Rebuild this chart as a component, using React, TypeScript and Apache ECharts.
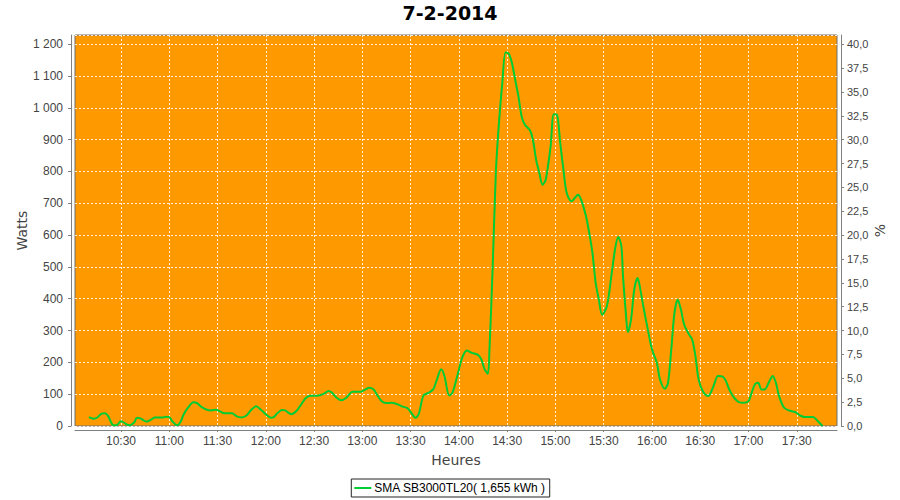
import React, { useEffect, useRef } from "react";
import * as echarts from "echarts";

const TITLE = "7-2-2014";
const SERIES_NAME = "SMA SB3000TL20( 1,655 kWh )";
const X_TICKS = ["10:30", "11:00", "11:30", "12:00", "12:30", "13:00", "13:30", "14:00", "14:30", "15:00", "15:30", "16:00", "16:30", "17:00", "17:30"];

const times = [
  "10:10", "10:13", "10:15", "10:18", "10:20", "10:22", "10:25", "10:27", "10:30", "10:32",
  "10:35", "10:38", "10:40", "10:42", "10:44", "10:46", "10:49", "10:51", "10:54", "10:56",
  "10:58", "11:00", "11:02", "11:05", "11:07", "11:09", "11:12", "11:15", "11:17", "11:20",
  "11:23", "11:26", "11:29", "11:32", "11:34", "11:39", "11:42", "11:45", "11:48", "11:51",
  "11:54", "11:57", "12:00", "12:03", "12:05", "12:07", "12:10", "12:12", "12:14", "12:16",
  "12:19", "12:22", "12:25", "12:28", "12:32", "12:36", "12:39", "12:41", "12:44", "12:47",
  "12:50", "12:54", "12:59", "13:02", "13:04", "13:07", "13:09", "13:12", "13:15", "13:18",
  "13:22", "13:25", "13:28", "13:30", "13:33", "13:35", "13:38", "13:41", "13:44", "13:46",
  "13:49", "13:51", "13:54", "13:56", "13:59", "14:02", "14:05", "14:08", "14:12", "14:14",
  "14:16", "14:18", "14:19", "14:21", "14:23", "14:25", "14:27", "14:29", "14:31", "14:33",
  "14:35", "14:37", "14:39", "14:41", "14:44", "14:46", "14:48", "14:50", "14:52", "14:54",
  "14:57", "14:59", "15:01", "15:03", "15:05", "15:07", "15:10", "15:12", "15:14", "15:16",
  "15:19", "15:21", "15:23", "15:25", "15:27", "15:29", "15:32", "15:35", "15:37", "15:39",
  "15:41", "15:42", "15:44", "15:45", "15:47", "15:49", "15:51", "15:52", "15:55", "15:57",
  "16:00", "16:03", "16:05", "16:08", "16:10", "16:12", "16:14", "16:16", "16:18", "16:20",
  "16:23", "16:25", "16:27", "16:29", "16:32", "16:35", "16:37", "16:39", "16:41", "16:44",
  "16:46", "16:48", "16:51", "16:54", "16:57", "17:00", "17:02", "17:04", "17:06", "17:08",
  "17:10", "17:13", "17:15", "17:17", "17:19", "17:22", "17:25", "17:29", "17:32", "17:35",
  "17:40", "17:43", "17:46",
];

const watts = [
  28, 23, 26, 39, 40, 31, 3, 2, 15, 10,
  2, 10, 26, 24, 18, 14, 21, 27, 27, 27,
  29, 28, 14, 2, 13, 37, 60, 75, 73, 60,
  52, 49, 51, 45, 40, 40, 30, 27, 33, 51,
  62, 51, 37, 26, 28, 39, 50, 49, 42, 37,
  47, 68, 89, 95, 95, 101, 110, 105, 89, 81,
  89, 108, 108, 115, 120, 115, 99, 78, 72, 73,
  68, 61, 56, 44, 26, 37, 96, 104, 115, 141,
  178, 157, 96, 105, 157, 214, 237, 230, 223, 209,
  178, 164, 240, 500, 800, 960, 1080, 1174, 1170, 1140,
  1088, 1036, 973, 947, 931, 900, 837, 795, 758, 775,
  879, 980, 978, 889, 805, 732, 706, 717, 727, 711,
  659, 607, 544, 450, 397, 350, 377, 481, 554, 594,
  565, 470, 340, 295, 335, 429, 465, 450, 366, 314,
  241, 199, 146, 117, 136, 241, 356, 397, 366, 319,
  288, 272, 220, 146, 105, 94, 110, 136, 157, 155,
  141, 115, 89, 75, 73, 78, 105, 131, 136, 115,
  115, 141, 157, 136, 94, 58, 49, 44, 33, 28,
  28, 16, 0,
];

const toMin = (s: string) => {
  const [h, m] = s.split(":").map(Number);
  return h * 60 + m;
};
const fmtTime = (v: number) => {
  const h = Math.floor(v / 60);
  const m = Math.round(v - h * 60);
  return `${h}:${m < 10 ? "0" + m : m}`;
};

export default function App() {
  const ref = useRef<HTMLDivElement>(null);
  useEffect(() => {
    if (!ref.current) return;
    const chart = echarts.init(ref.current, undefined, { renderer: "svg" });
    const font = "DejaVu Sans";
    const tickFont = "Liberation Sans";
    const tickVals = X_TICKS.map(toMin);
    const gridLine = { show: true, lineStyle: { color: "rgba(255,255,255,0.85)", type: [2, 2], width: 1 } };
    chart.setOption({
      animation: false,
      backgroundColor: "#ffffff",
      textStyle: { fontFamily: font },
      title: {
        text: TITLE,
        left: "center",
        top: 0,
        padding: [3, 5],
        textStyle: { fontFamily: font, fontSize: 19, fontWeight: "bold", color: "#000" },
      },
      grid: {
        left: 75,
        right: 63,
        top: 35,
        bottom: 74,
        show: true,
        backgroundColor: "#FF9900",
        borderColor: "#6e6e6e",
        borderWidth: 1,
      },
      legend: {
        bottom: 3,
        left: "center",
        data: [SERIES_NAME],
        icon: "rect",
        itemWidth: 17,
        itemHeight: 2,
        itemGap: 4,
        padding: [3, 4, 3, 3],
        borderColor: "#222",
        borderWidth: 1,
        borderRadius: 0,
        textStyle: { fontFamily: tickFont, fontSize: 12, color: "#000", padding: [0, 0, 0, -2] },
      },
      xAxis: {
        type: "value",
        min: 601.4,
        max: 1075,
        name: "Heures",
        nameLocation: "middle",
        nameGap: 23,
        nameMoveOverlap: false,
        nameTextStyle: { fontFamily: font, fontSize: 14, color: "#444" },
        offset: 4,
        axisLine: { show: true, onZero: false, lineStyle: { color: "#808080" } },
        axisTick: { show: true, length: 2, customValues: tickVals, lineStyle: { color: "#808080" } },
        axisLabel: {
          customValues: tickVals,
          formatter: (v: number) => fmtTime(v),
          fontFamily: tickFont,
          fontSize: 12,
          color: "#444",
          margin: 5,
        },
        splitLine: gridLine,
      },
      yAxis: [
        {
          type: "value",
          min: 0,
          max: 1229,
          interval: 100,
          name: "Watts",
          nameLocation: "middle",
          nameGap: 42,
          nameMoveOverlap: false,
          nameTextStyle: { fontFamily: font, fontSize: 14, color: "#444" },
          offset: 4,
          axisLine: { show: true, lineStyle: { color: "#808080" } },
          axisTick: { show: true, length: 3, lineStyle: { color: "#808080" } },
          axisLabel: {
            fontFamily: tickFont,
            fontSize: 12,
            color: "#444",
            margin: 8,
            showMaxLabel: false,
            formatter: (v: number) => (v >= 1000 ? `${Math.floor(v / 1000)} ${String(v % 1000).padStart(3, "0")}` : `${v}`),
          },
          splitLine: gridLine,
        },
        {
          type: "value",
          min: 0,
          max: 1229 / 30,
          interval: 2.5,
          name: "%",
          nameLocation: "middle",
          nameGap: 32,
          nameMoveOverlap: false,
          nameTextStyle: { fontFamily: font, fontSize: 14, color: "#444" },
          offset: 4,
          axisLine: { show: true, lineStyle: { color: "#808080" } },
          axisTick: { show: true, length: 3, lineStyle: { color: "#808080" } },
          axisLabel: {
            fontFamily: tickFont,
            fontSize: 11,
            color: "#444",
            margin: 6,
            showMaxLabel: false,
            formatter: (v: number) => v.toFixed(1).replace(".", ","),
          },
          splitLine: { show: false },
        },
      ],
      series: [
        {
          name: SERIES_NAME,
          type: "line",
          yAxisIndex: 0,
          data: times.map((t, i) => [toMin(t), watts[i]]),
          showSymbol: false,
          smooth: 0.3,
          lineStyle: { color: "#00CC33", width: 2 },
          itemStyle: { color: "#00CC33" },
        },
      ],
    });
    return () => chart.dispose();
  }, []);
  return <div ref={ref} style={{ position: "absolute", left: 0, top: 0, width: 900, height: 500 }} />;
}
